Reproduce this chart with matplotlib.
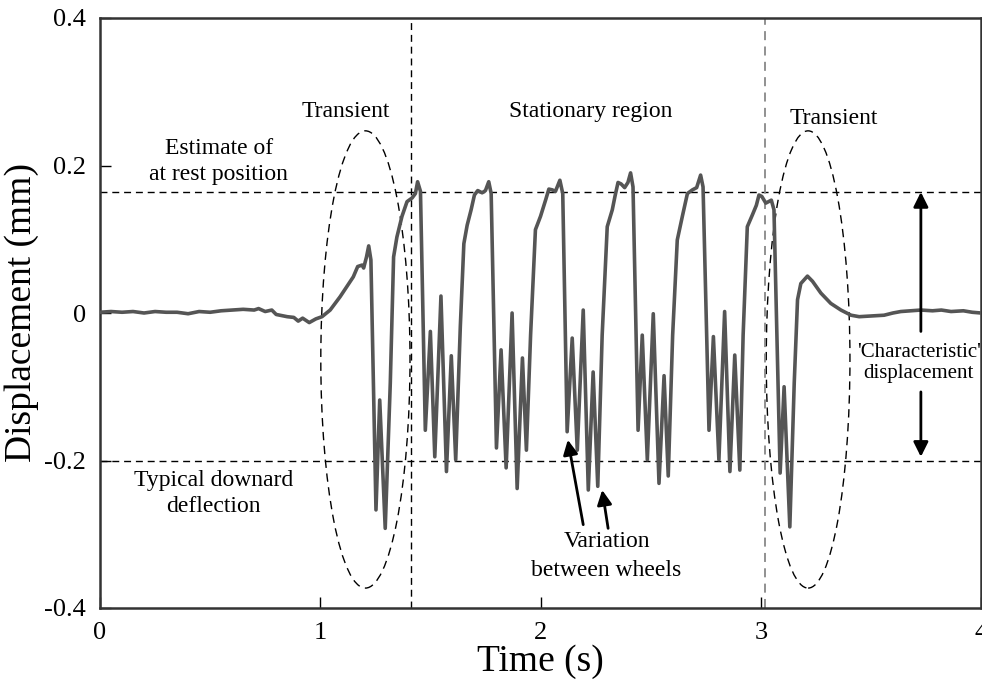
import matplotlib.pyplot as plt
from matplotlib.patches import Ellipse

plt.rcParams['font.family'] = ['Liberation Serif', 'DejaVu Serif']

# measured displacement trace (time in s, displacement in mm)
time_s = [0.000, 0.05, 0.10, 0.15, 0.20, 0.25, 0.30, 0.35, 0.40, 0.45,
          0.50, 0.55, 0.60, 0.65, 0.70, 0.72, 0.75, 0.78, 0.80, 0.85,
          0.88, 0.90, 0.92, 0.95, 0.98, 1.008, 1.045, 1.09, 1.13, 1.15,
          1.17, 1.19, 1.197, 1.21, 1.22, 1.23, 1.253, 1.27, 1.295, 1.318,
          1.333, 1.348, 1.371, 1.394, 1.417, 1.432, 1.442, 1.455, 1.477, 1.50,
          1.52, 1.548, 1.573, 1.595, 1.615, 1.636, 1.652, 1.667, 1.685, 1.70,
          1.715, 1.735, 1.750, 1.765, 1.776, 1.80, 1.821, 1.844, 1.871, 1.894,
          1.918, 1.936, 1.955, 1.977, 2.00, 2.023, 2.038, 2.053, 2.068, 2.088,
          2.101, 2.121, 2.144, 2.167, 2.194, 2.217, 2.239, 2.26, 2.28, 2.303,
          2.326, 2.338, 2.352, 2.366, 2.382, 2.397, 2.409, 2.42, 2.443, 2.462,
          2.485, 2.512, 2.538, 2.561, 2.58, 2.60, 2.621, 2.644, 2.667, 2.69,
          2.709, 2.727, 2.738, 2.765, 2.785, 2.81, 2.836, 2.86, 2.882, 2.905,
          2.92, 2.939, 2.962, 2.98, 2.992, 3.005, 3.023, 3.048, 3.06, 3.088,
          3.106, 3.132, 3.152, 3.167, 3.182, 3.212, 3.235, 3.273, 3.318, 3.364,
          3.41, 3.447, 3.50, 3.56, 3.60, 3.636, 3.68, 3.727, 3.78, 3.82,
          3.864, 3.92, 3.96, 4.00]
disp_mm = [0.001, 0.002, 0.001, 0.002, 0.000, 0.002, 0.001, 0.001, -0.001, 0.002,
           0.001, 0.003, 0.004, 0.005, 0.004, 0.006, 0.002, 0.004, -0.002, -0.005,
           -0.006, -0.011, -0.007, -0.013, -0.008, -0.005, 0.004, 0.022, 0.040, 0.049,
           0.063, 0.065, 0.061, 0.076, 0.091, 0.072, -0.267, -0.118, -0.292, -0.095,
           0.076, 0.103, 0.131, 0.151, 0.156, 0.162, 0.178, 0.165, -0.159, -0.025,
           -0.195, 0.023, -0.215, -0.058, -0.199, -0.018, 0.094, 0.119, 0.140, 0.160,
           0.166, 0.163, 0.166, 0.178, 0.162, -0.183, -0.050, -0.210, 0.000, -0.238,
           -0.061, -0.186, -0.030, 0.113, 0.131, 0.153, 0.168, 0.167, 0.165, 0.180,
           0.162, -0.161, -0.034, -0.186, 0.004, -0.240, -0.080, -0.235, -0.030, 0.117,
           0.140, 0.158, 0.177, 0.175, 0.170, 0.177, 0.190, 0.171, -0.159, -0.030,
           -0.199, -0.001, -0.231, -0.085, -0.221, -0.030, 0.099, 0.131, 0.162, 0.167,
           0.170, 0.187, 0.171, -0.159, -0.032, -0.199, 0.002, -0.215, -0.057, -0.213,
           -0.030, 0.117, 0.133, 0.146, 0.160, 0.158, 0.149, 0.153, 0.140, -0.217,
           -0.100, -0.290, -0.095, 0.018, 0.040, 0.050, 0.043, 0.027, 0.013, 0.004,
           -0.003, -0.005, -0.004, -0.003, 0.000, 0.002, 0.003, 0.004, 0.003, 0.004,
           0.002, 0.003, 0.001, 0.000]

rest_level = 0.164
down_level = -0.2
region_edges = [1.41, 3.02]
ellipse_centres = [(1.205, -0.063), (3.215, -0.063)]
ellipse_sizes = [(0.405, 0.62), (0.38, 0.62)]

fig = plt.figure(figsize=(9.82, 6.90), dpi=100)
ax = fig.add_axes([100/982, 1 - 608/690, 881/982, 590/690])

ax.plot(time_s, disp_mm, color='#555555', lw=2.6, solid_joinstyle='round',
        solid_capstyle='round', zorder=3)

dash = (0, (5, 3.5))
ax.axhline(rest_level, color='k', lw=1, linestyle=dash)
ax.axhline(down_level, color='k', lw=1, linestyle=dash)
ax.axvline(region_edges[0], color='k', lw=1, linestyle=dash)
ax.axvline(region_edges[1], color='#888888', lw=1.3, linestyle=dash)

for (cx, cy), (w, h) in zip(ellipse_centres, ellipse_sizes):
    ax.add_patch(Ellipse((cx, cy), w, h, fill=False, edgecolor='k',
                         lw=1, linestyle=(0, (6, 4))))

fs = 17
ax.text(1.114, 0.266, 'Transient', ha='center', va='baseline', fontsize=fs)
ax.text(2.227, 0.266, 'Stationary region', ha='center', va='baseline', fontsize=fs)
ax.text(3.33, 0.256, 'Transient', ha='center', va='baseline', fontsize=fs)
ax.text(0.54, 0.216, 'Estimate of', ha='center', va='baseline', fontsize=fs)
ax.text(0.54, 0.180, 'at rest position', ha='center', va='baseline', fontsize=fs)
ax.text(0.516, -0.235, 'Typical downard', ha='center', va='baseline', fontsize=fs)
ax.text(0.516, -0.270, 'deflection', ha='center', va='baseline', fontsize=fs)
ax.text(2.30, -0.317, 'Variation', ha='center', va='baseline', fontsize=fs)
ax.text(2.30, -0.357, 'between wheels', ha='center', va='baseline', fontsize=fs)
ax.text(3.718, -0.059, "'Characteristic'", ha='center', va='baseline', fontsize=15)
ax.text(3.718, -0.088, 'displacement', ha='center', va='baseline', fontsize=15)

arrow = dict(arrowstyle='-|>', color='k', lw=2, mutation_scale=22, shrinkA=0, shrinkB=0)
ax.annotate('', xy=(2.124, -0.172), xytext=(2.194, -0.287), arrowprops=arrow)
ax.annotate('', xy=(2.28, -0.240), xytext=(2.307, -0.292), arrowprops=arrow)
ax.annotate('', xy=(3.727, rest_level), xytext=(3.727, -0.025), arrowprops=arrow)
ax.annotate('', xy=(3.727, -0.195), xytext=(3.727, -0.107), arrowprops=arrow)

ax.set_xlim(0, 4)
ax.set_ylim(-0.4, 0.4)
ax.set_xticks([0, 1, 2, 3, 4])
ax.set_yticks([-0.4, -0.2, 0, 0.2, 0.4])
ax.set_yticklabels(['-0.4', '-0.2', '0', '0.2', '0.4'])
ax.tick_params(direction='in', length=8, width=1, labelsize=19, pad=10,
               top=False, right=False)
for s in ax.spines.values():
    s.set_linewidth(1.8)
    s.set_color('#333333')

ax.set_xlabel('Time (s)', fontsize=27, labelpad=0)
ax.set_ylabel('Displacement (mm)', fontsize=27, labelpad=4)

fig.savefig('out.png', dpi=100)
